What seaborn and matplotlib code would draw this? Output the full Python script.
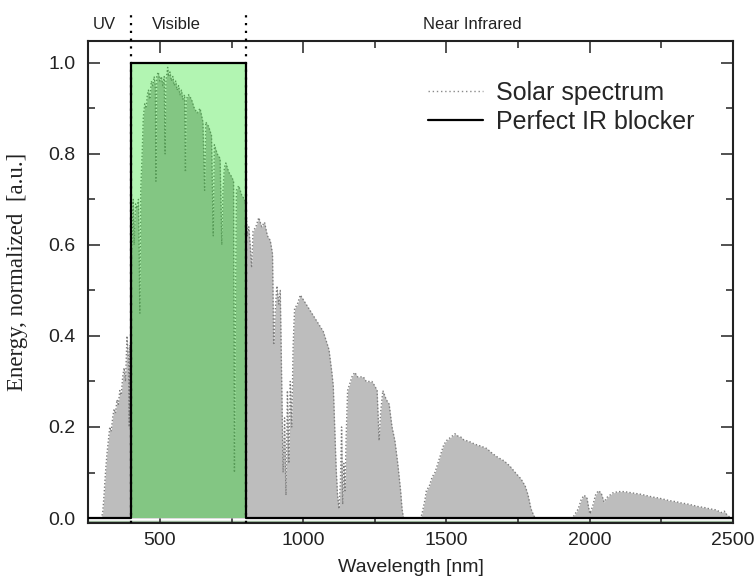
import numpy as np
import pandas as pd
import matplotlib
matplotlib.use("Agg")
import matplotlib.pyplot as plt
import matplotlib.transforms as mtransforms
from matplotlib.lines import Line2D
from matplotlib.ticker import MultipleLocator
import seaborn as sns

# ---- data ----
wavelength = [
    280, 295, 300, 305, 310, 315, 320, 325, 330, 335, 340, 345, 350, 355, 360,
    365, 370, 375, 380, 385, 390, 393, 395, 397, 400,
    403, 407, 410, 415, 420, 425, 430, 433, 438, 442, 447, 452, 456, 460, 465,
    470, 475, 480, 484, 486, 489, 494, 500, 505, 510, 515, 518, 521, 527, 530,
    535, 540, 545, 550, 555, 560, 565, 570, 575, 580, 586, 589, 592, 600, 610,
    620, 630, 640, 650, 656, 660, 670, 680, 686, 690, 700, 710, 716, 720, 725,
    730, 740, 750, 757, 760, 763, 767, 775, 785, 795, 800,
    805, 810, 815, 820, 825, 835, 845, 855, 865, 875, 885, 893, 897, 902, 908,
    915, 920, 925, 930, 935, 940, 945, 950, 955, 960, 965, 970, 980, 990, 1000,
    1010, 1020, 1030, 1040, 1050, 1060, 1070, 1080, 1090, 1100, 1105, 1110,
    1115, 1120, 1125, 1130, 1134, 1138, 1142, 1146, 1150, 1155, 1160, 1170,
    1180, 1190, 1200, 1210, 1220, 1230, 1240, 1250, 1258, 1265, 1270, 1278,
    1290, 1300, 1310, 1320, 1330, 1340, 1345, 1350, 1400, 1410, 1415, 1425,
    1430, 1440, 1450, 1460, 1470, 1480, 1490, 1500, 1510, 1520, 1530, 1540,
    1550, 1560, 1570, 1580, 1590, 1600, 1620, 1640, 1660, 1680, 1700, 1720,
    1740, 1760, 1775, 1785, 1795, 1805, 1810, 1940, 1950, 1960, 1970, 1980,
    1990, 2000, 2010, 2020, 2030, 2040, 2050, 2060, 2070, 2080, 2100, 2120,
    2140, 2160, 2180, 2200, 2220, 2240, 2260, 2280, 2300, 2320, 2340, 2360,
    2380, 2400, 2420, 2440, 2460, 2470, 2480, 2490, 2500,
]
energy = [
    0.0, 0.0, 0.01, 0.05, 0.10, 0.14, 0.17, 0.20, 0.19, 0.22, 0.24, 0.23, 0.26, 0.25, 0.28,
    0.27, 0.31, 0.33, 0.30, 0.40, 0.35, 0.20, 0.38, 0.22, 0.55,
    0.62, 0.70, 0.60, 0.69, 0.68, 0.70, 0.45, 0.72, 0.80, 0.88, 0.91, 0.90, 0.93, 0.94, 0.92,
    0.96, 0.95, 0.97, 0.95, 0.74, 0.97, 0.98, 0.96, 0.97, 0.95, 0.97, 0.80, 0.96, 0.99, 0.97,
    0.98, 0.96, 0.97, 0.95, 0.96, 0.94, 0.95, 0.93, 0.94, 0.92, 0.93, 0.76, 0.92, 0.93, 0.92,
    0.90, 0.89, 0.90, 0.87, 0.72, 0.87, 0.86, 0.84, 0.62, 0.82, 0.80, 0.79, 0.60, 0.72, 0.77,
    0.78, 0.76, 0.75, 0.74, 0.10, 0.40, 0.72, 0.73, 0.71, 0.70, 0.69,
    0.62, 0.64, 0.60, 0.55, 0.63, 0.64, 0.66, 0.64, 0.65, 0.62, 0.61, 0.58, 0.38, 0.45, 0.51,
    0.47, 0.50, 0.30, 0.10, 0.22, 0.05, 0.28, 0.12, 0.30, 0.20, 0.38, 0.46, 0.47, 0.49, 0.48,
    0.47, 0.46, 0.45, 0.44, 0.43, 0.42, 0.41, 0.39, 0.37, 0.32, 0.29, 0.20,
    0.11, 0.05, 0.02, 0.08, 0.20, 0.03, 0.12, 0.06, 0.18, 0.28, 0.29, 0.31,
    0.32, 0.31, 0.31, 0.31, 0.30, 0.30, 0.30, 0.29, 0.28, 0.17, 0.23, 0.28,
    0.26, 0.25, 0.20, 0.17, 0.12, 0.06, 0.02, 0.0, 0.0, 0.0, 0.01, 0.04,
    0.06, 0.07, 0.09, 0.10, 0.12, 0.14, 0.16, 0.17, 0.175, 0.18, 0.185, 0.18,
    0.178, 0.172, 0.17, 0.168, 0.165, 0.162, 0.158, 0.153, 0.142, 0.133, 0.126, 0.115,
    0.10, 0.086, 0.07, 0.05, 0.02, 0.005, 0.0, 0.0, 0.01, 0.02, 0.04, 0.05,
    0.045, 0.01, 0.025, 0.05, 0.06, 0.055, 0.035, 0.045, 0.05, 0.055, 0.058, 0.058,
    0.056, 0.054, 0.052, 0.049, 0.046, 0.044, 0.041, 0.038, 0.036, 0.033, 0.031, 0.028,
    0.025, 0.023, 0.020, 0.018, 0.012, 0.015, 0.006, 0.002, 0.0,
]
blocker_wavelength = [250, 400, 400, 800, 800, 2500]
blocker_energy = [0.0, 0.0, 1.0, 1.0, 0.0, 0.0]
region_labels = ["UV", "Visible", "Near Infrared"]
region_label_x = [305, 556, 1590]
region_bounds = [400, 800]
x_ticks = [500, 1000, 1500, 2000, 2500]
y_ticks = [0.0, 0.2, 0.4, 0.6, 0.8, 1.0]
legend_labels = ["Solar spectrum", "Perfect IR blocker"]

# ---- style ----
sns.set_style("ticks")
plt.rcParams["font.family"] = ["Liberation Sans", "DejaVu Sans"]

fig = plt.figure(figsize=(7.54, 5.77), dpi=100)
ax = fig.add_axes([0.1171, 0.0941, 0.855, 0.8348])

YMIN, YMAX = -0.0103, 1.048

spec = pd.DataFrame({"wavelength": wavelength, "energy": energy})
block = pd.DataFrame({"wavelength": blocker_wavelength, "energy": blocker_energy})

# solar spectrum: grey filled area with a dotted outline
ax.fill_between(spec["wavelength"], 0, spec["energy"], color="#bdbdbd", lw=0, zorder=1)
sns.lineplot(data=spec, x="wavelength", y="energy", ax=ax, color="#7d7d7d",
             linewidth=1.0, linestyle=(0, (1, 1.5)), sort=False, estimator=None, zorder=2)

# perfect IR blocker: translucent green box with solid black outline
ax.fill_between(block["wavelength"], 0, block["energy"], color=(0.0, 0.87, 0.0),
                alpha=0.3, lw=0, zorder=3)
sns.lineplot(data=block, x="wavelength", y="energy", ax=ax, color="black",
             linewidth=1.6, sort=False, estimator=None, zorder=4)

# thin greenish strip under the zero line
ax.axhline(-0.0055, color="#9cb89c", lw=1.0, zorder=0.5)

# dotted region boundaries extending above the axes
for b in region_bounds:
    ax.plot([b, b], [YMIN, 1.11], color="black", linestyle=(0, (1, 2.5)),
            lw=1.6, clip_on=False, zorder=5)

trans = mtransforms.blended_transform_factory(ax.transData, ax.transAxes)
for lab, xpos in zip(region_labels, region_label_x):
    ax.text(xpos, 1.035, lab, transform=trans, ha="center", va="center",
            fontsize=12, color="#222222")

ax.set_xlim(250, 2500)
ax.set_ylim(YMIN, YMAX)
ax.set_xticks(x_ticks)
ax.set_xticklabels([str(v) for v in x_ticks])
ax.set_yticks(y_ticks)
ax.set_yticklabels([f"{v:.1f}" for v in y_ticks])
ax.xaxis.set_minor_locator(MultipleLocator(250))
ax.yaxis.set_minor_locator(MultipleLocator(0.1))
ax.tick_params(which="both", direction="in", top=True, right=True, width=1.1, color="#222222")
ax.tick_params(which="major", length=8.5, labelsize=14, labelcolor="#222222")
ax.tick_params(which="minor", length=5)
ax.tick_params(axis="x", which="major", pad=7)
ax.tick_params(axis="y", which="major", pad=9)
for s in ax.spines.values():
    s.set_linewidth(1.5)
    s.set_color("#222222")

ax.set_xlabel("Wavelength [nm]", fontsize=14, labelpad=7, color="#222222")
ax.set_ylabel("Energy, normalized  [a.u.]", family=["Liberation Serif", "DejaVu Serif"],
              fontsize=16.5, color="#222222")
ax.yaxis.set_label_coords(-0.0935, 0.52)

handles = [
    Line2D([], [], color="#8a8a8a", linestyle=(0, (1, 2)), lw=1.0),
    Line2D([], [], color="black", lw=1.6),
]
ax.legend(handles, legend_labels, loc="upper left", bbox_to_anchor=(0.527, 0.918),
          frameon=False, fontsize=18, handlelength=2.2, handletextpad=0.5,
          labelspacing=0.2, borderpad=0, borderaxespad=0)

fig.savefig("out.png", dpi=100)
